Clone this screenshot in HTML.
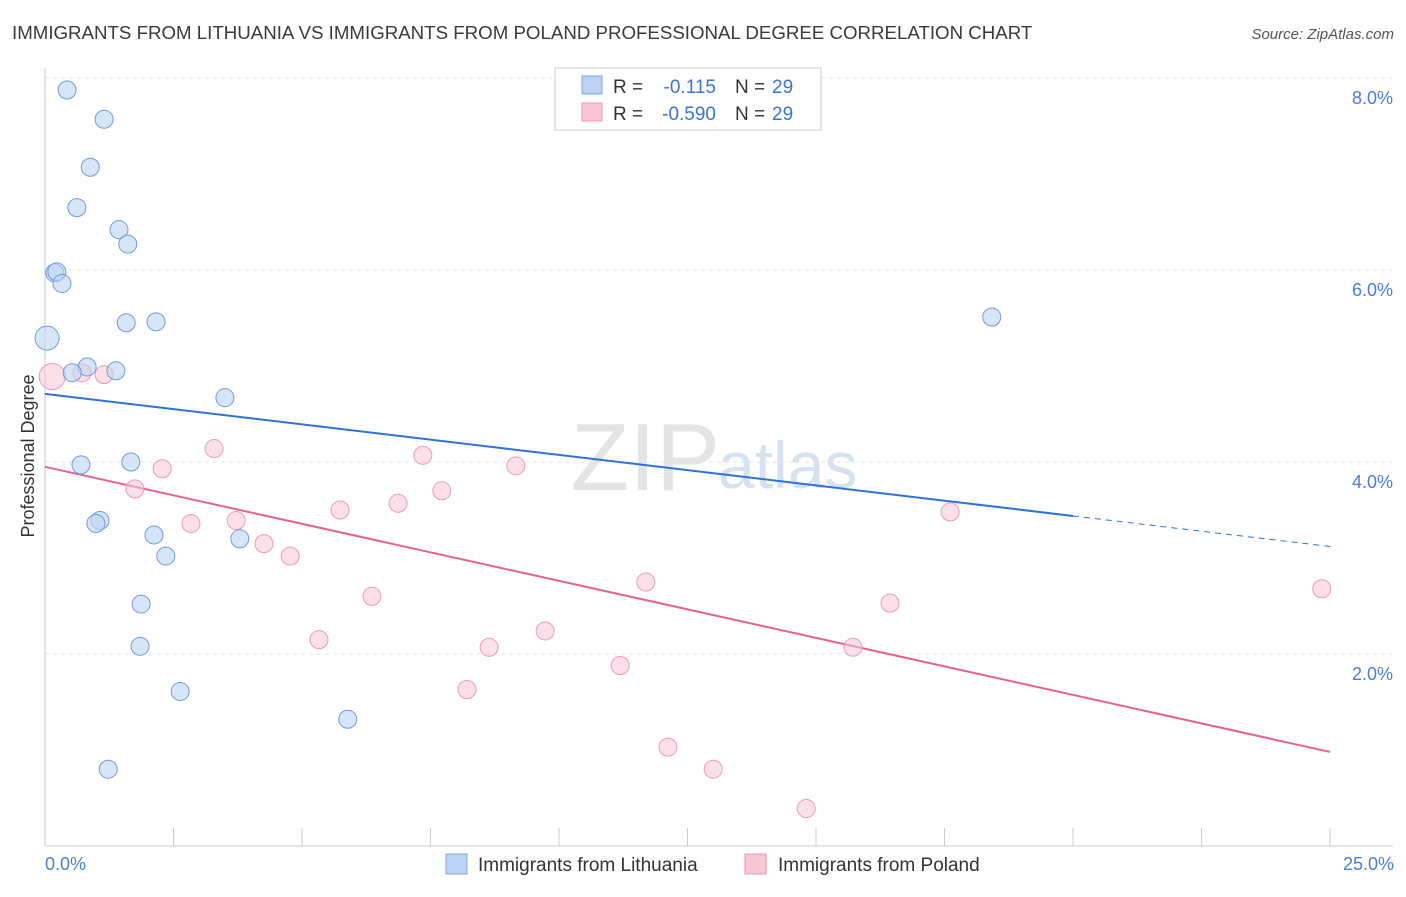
<!DOCTYPE html>
<html><head><meta charset="utf-8"><style>
body{margin:0;background:#fff;font-family:"Liberation Sans",sans-serif;}
svg text{font-family:"Liberation Sans",sans-serif;}
</style></head><body>
<svg id="chart" width="1406" height="892" xmlns="http://www.w3.org/2000/svg">
<text x="12" y="39" font-size="18.7" fill="#3a3a3a">IMMIGRANTS FROM LITHUANIA VS IMMIGRANTS FROM POLAND PROFESSIONAL DEGREE CORRELATION CHART</text>
<text x="1394" y="39" font-size="15" fill="#555" text-anchor="end" font-style="italic">Source: ZipAtlas.com</text>
<text x="720" y="490" font-size="96" fill="#e4e4e4" text-anchor="end" font-family="Liberation Serif">ZIP</text>
<text x="718" y="488" font-size="66" fill="#d6e2f2">atlas</text>
<g id="grid"></g><g id="axes"></g><g id="lines"></g><g id="points"></g>
<text transform="translate(34,456) rotate(-90)" font-size="18" fill="#333" text-anchor="middle">Professional Degree</text>
<text x="45" y="870" font-size="18" fill="#4a7fd4">0.0%</text>
<text x="1394" y="870" font-size="18" fill="#4a7fd4" text-anchor="end">25.0%</text>
<g>
<rect x="555" y="68" width="266" height="62" fill="#fff" stroke="#ccc"/>
<rect x="582" y="76" width="20" height="18" fill="#bcd3f5" stroke="#7fa6e0"/>
<rect x="582" y="103" width="20" height="18" fill="#f9c6d6" stroke="#ec98b3"/>
<text x="613" y="93" font-size="19" fill="#333">R =</text>
<text x="716" y="93" font-size="19" fill="#3a75d1" text-anchor="end">-0.115</text>
<text x="735" y="93" font-size="19" fill="#333">N =</text>
<text x="772" y="93" font-size="19" fill="#3a75d1">29</text>
<text x="613" y="120" font-size="19" fill="#333">R =</text>
<text x="716" y="120" font-size="19" fill="#3a75d1" text-anchor="end">-0.590</text>
<text x="735" y="120" font-size="19" fill="#333">N =</text>
<text x="772" y="120" font-size="19" fill="#3a75d1">29</text>
</g>
<g><rect x="446" y="854" width="21" height="20" fill="#bcd3f5" stroke="#7fa6e0"/><text x="478" y="871" font-size="19" fill="#333">Immigrants from Lithuania</text></g>
<g><rect x="745" y="854" width="21" height="20" fill="#f9c6d6" stroke="#ec98b3"/><text x="778" y="871" font-size="19" fill="#333">Immigrants from Poland</text></g>
</svg>
<script>
const xTicks=[0,2.5,5,7.5,10,12.5,15,17.5,20,22.5,25];
const yTicks=[2,4,6,8];
const yTickLabels=["2.0%","4.0%","6.0%","8.0%"];
const lithX=[0.43,1.15,0.88,0.62,1.44,1.61,0.19,0.23,0.33,0.04,1.58,2.16,0.82,1.38,0.53,3.50,0.70,1.67,1.07,0.99,2.12,3.79,2.35,1.87,1.85,2.63,5.89,1.23,18.42];
const lithY=[7.875,7.57,7.07,6.65,6.42,6.27,5.97,5.98,5.86,5.29,5.45,5.46,4.99,4.95,4.93,4.67,3.97,4.00,3.39,3.36,3.24,3.20,3.02,2.52,2.08,1.61,1.32,0.80,5.51];
const polX=[0.14,0.72,1.15,3.29,2.28,1.75,7.35,9.16,7.72,6.87,5.74,2.84,3.72,4.26,4.77,17.61,6.36,11.69,5.33,8.64,9.73,11.19,8.21,15.72,16.44,24.84,12.12,13.00,14.81];
const polY=[4.89,4.93,4.91,4.14,3.93,3.72,4.07,3.96,3.70,3.57,3.50,3.36,3.39,3.15,3.02,3.48,2.60,2.75,2.15,2.07,2.24,1.88,1.63,2.07,2.53,2.68,1.03,0.80,0.39];
const lithTrend=[4.71,3.12];
const polTrend=[3.95,0.98];
const NS="http://www.w3.org/2000/svg";
const X=v=>45+v*51.4, Y=v=>846-v*96;
function mk(p,t,a){const e=document.createElementNS(NS,t);for(const k in a)e.setAttribute(k,a[k]);document.getElementById(p).appendChild(e);return e;}
yTicks.forEach((t,i)=>{
 const g=mk('grid','line',{x1:45,x2:1393,y1:Y(t),y2:Y(t),stroke:'#e6e6e6','stroke-dasharray':'4,4'});
 
 
 const l=mk('grid','text',{x:1393,y:Y(t)+26,'font-size':18,fill:'#4a7fd4','text-anchor':'end'});
 l.textContent=yTickLabels[i];
 
 
});
let a=mk('axes','line',{x1:45,x2:45,y1:68,y2:846,stroke:'#ccc'});


a=mk('axes','line',{x1:45,x2:1393,y1:846,y2:846,stroke:'#ccc'});


xTicks.forEach(t=>{const e=mk('axes','line',{x1:X(t),x2:X(t),y1:828,y2:846,stroke:'#ccc'});
 
 });
const lt=v=>lithTrend[0]+(lithTrend[1]-lithTrend[0])*v/25;
let ln=mk('lines','line',{x1:X(0),y1:Y(lt(0)),x2:X(20),y2:Y(lt(20)),stroke:'#2f72d8','stroke-width':2});


ln=mk('lines','line',{x1:X(20),y1:Y(lt(20)),x2:X(25),y2:Y(lt(25)),stroke:'#2f72d8','stroke-width':1,'stroke-dasharray':'6,5'});


ln=mk('lines','line',{x1:X(0),y1:Y(polTrend[0]),x2:X(25),y2:Y(polTrend[1]),stroke:'#e8628f','stroke-width':2});


polX.forEach((x,i)=>{const c=mk('points','circle',{cx:X(x),cy:Y(polY[i]),r:i==0?13:9,fill:'rgba(249,198,214,0.55)',stroke:'#ee9ab5','stroke-width':1});
 
 });
lithX.forEach((x,i)=>{const c=mk('points','circle',{cx:X(x),cy:Y(lithY[i]),r:i==9?12:9,fill:'rgba(188,211,245,0.6)',stroke:'#6f9be0','stroke-width':1});
 
 });
</script>
</body></html>
